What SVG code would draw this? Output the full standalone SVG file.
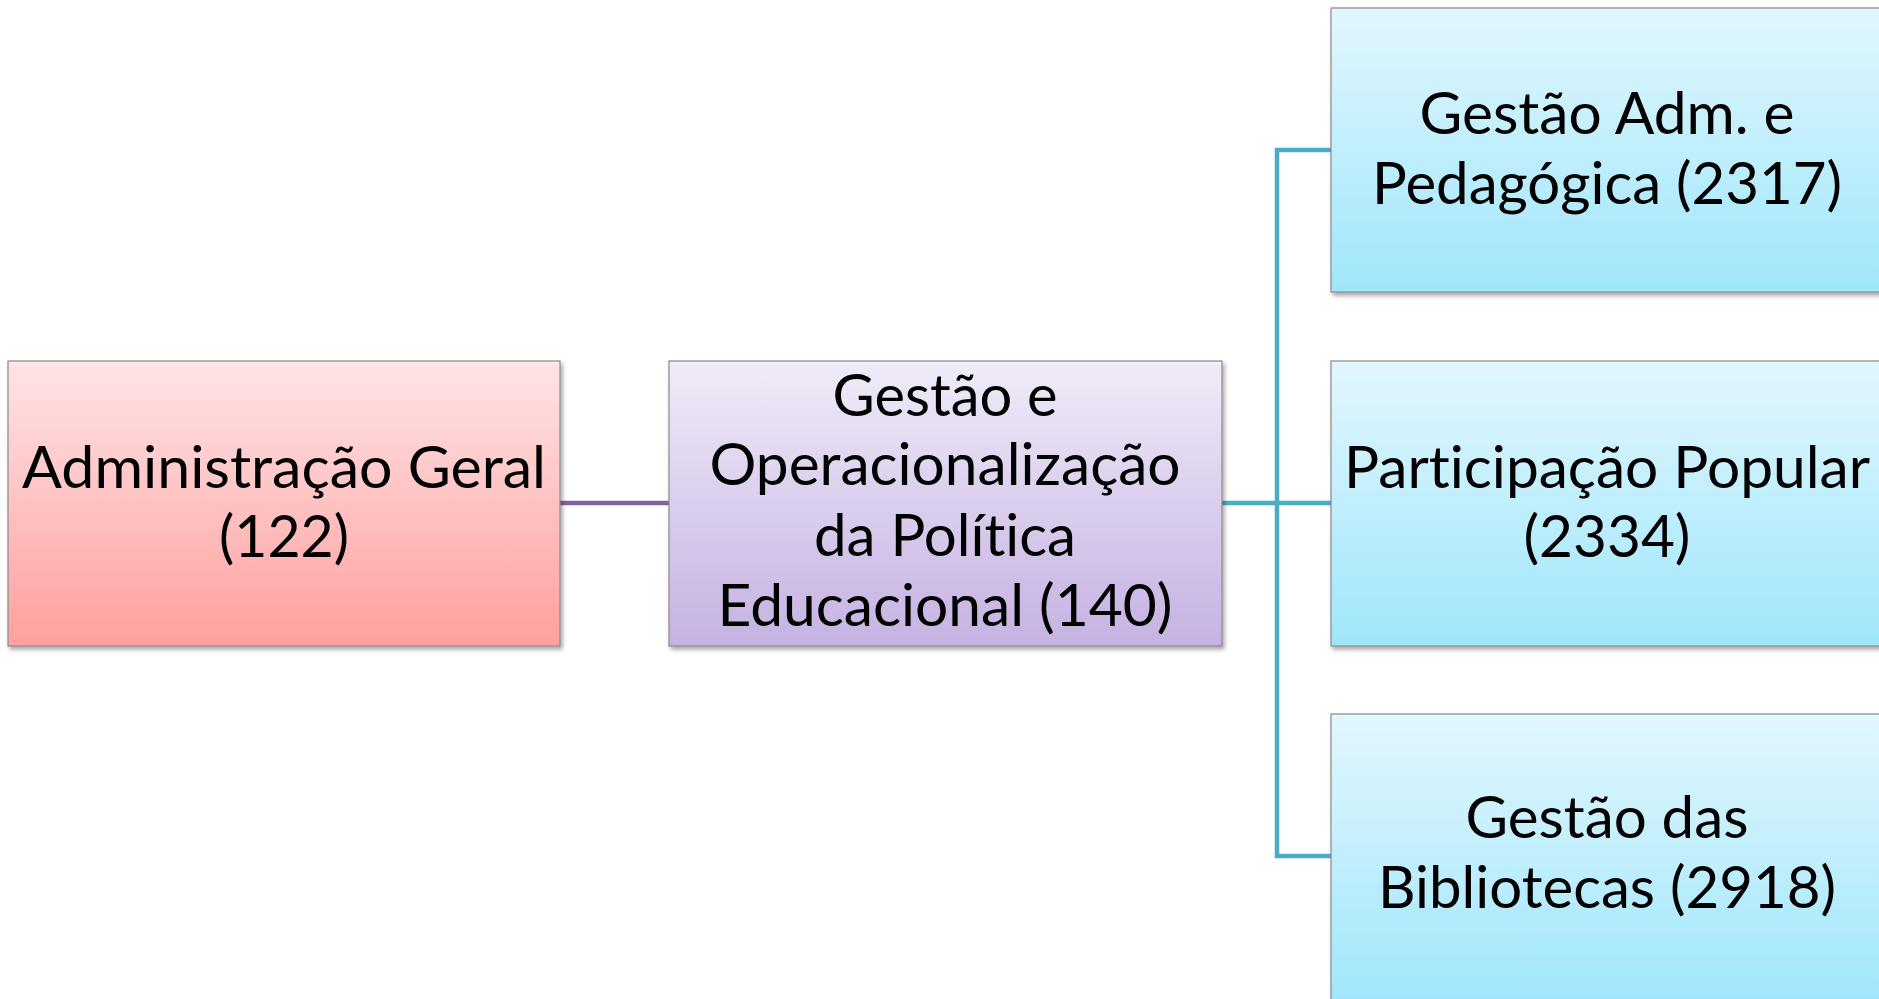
<svg xmlns="http://www.w3.org/2000/svg" width="1879" height="999" viewBox="0 0 1879 999">
<defs>
<linearGradient id="gRed" x1="0" y1="0" x2="0" y2="1"><stop offset="0" stop-color="#FFE4E6"/><stop offset="1" stop-color="#FEA09E"/></linearGradient>
<linearGradient id="gPur" x1="0" y1="0" x2="0" y2="1"><stop offset="0" stop-color="#F0EBF8"/><stop offset="1" stop-color="#C5B2E2"/></linearGradient>
<linearGradient id="gBlue" x1="0" y1="0" x2="0" y2="1"><stop offset="0" stop-color="#E2F7FD"/><stop offset="1" stop-color="#9FE6FB"/></linearGradient>
<filter id="sh" x="-5%" y="-5%" width="115%" height="115%"><feDropShadow dx="2" dy="3" stdDeviation="2" flood-color="#000" flood-opacity="0.35"/></filter>
<style>
.box{stroke:#8A8A8A;stroke-width:1.2;filter:url(#sh)}
.t{font-family:Lato,"Open Sans","Liberation Sans",sans-serif;font-size:58px;fill:#000;text-anchor:middle;font-variant-ligatures:none;font-feature-settings:"liga" 0}
.cp{fill:none;stroke:#8064A2;stroke-width:4.5}
.cb{fill:none;stroke:#4BACC6;stroke-width:4.5}
</style>
</defs>
<rect width="1879" height="999" fill="#fff"/>
<g id="connectors">
<path class="cp" d="M560 503 H669"/>
<path class="cb" d="M1222 503 H1331 M1331 150 H1277 V856 H1331"/>
</g>
<g id="admin">
<rect class="box" x="8" y="361" width="552" height="285" fill="url(#gRed)"/>
<text class="t" x="284" y="488" textLength="524" lengthAdjust="spacingAndGlyphs">Administração Geral</text>
<text class="t" x="284" y="557" textLength="130" lengthAdjust="spacingAndGlyphs">(122)</text>
</g>
<g id="gestao">
<rect class="box" x="669" y="361" width="553" height="285" fill="url(#gPur)"/>
<text class="t" x="945" y="416" textLength="225" lengthAdjust="spacingAndGlyphs">Gestão e</text>
<text class="t" x="945" y="485" textLength="471" lengthAdjust="spacingAndGlyphs">Operacionalização</text>
<text class="t" x="945" y="556" textLength="262" lengthAdjust="spacingAndGlyphs">da Política</text>
<text class="t" x="945" y="626" textLength="455" lengthAdjust="spacingAndGlyphs">Educacional (140)</text>
</g>
<g id="adm-pedagogica">
<rect class="box" x="1331" y="8" width="552" height="284" fill="url(#gBlue)"/>
<text class="t" x="1607" y="134" textLength="375" lengthAdjust="spacingAndGlyphs">Gestão Adm. e</text>
<text class="t" x="1607" y="204" textLength="470" lengthAdjust="spacingAndGlyphs">Pedagógica (2317)</text>
</g>
<g id="participacao">
<rect class="box" x="1331" y="361" width="552" height="285" fill="url(#gBlue)"/>
<text class="t" x="1607" y="488" textLength="526" lengthAdjust="spacingAndGlyphs">Participação Popular</text>
<text class="t" x="1607" y="557" textLength="167" lengthAdjust="spacingAndGlyphs">(2334)</text>
</g>
<g id="bibliotecas">
<rect class="box" x="1331" y="714" width="552" height="290" fill="url(#gBlue)"/>
<text class="t" x="1607" y="838" textLength="283" lengthAdjust="spacingAndGlyphs">Gestão das</text>
<text class="t" x="1607" y="908" textLength="458" lengthAdjust="spacingAndGlyphs">Bibliotecas (2918)</text>
</g>
</svg>
